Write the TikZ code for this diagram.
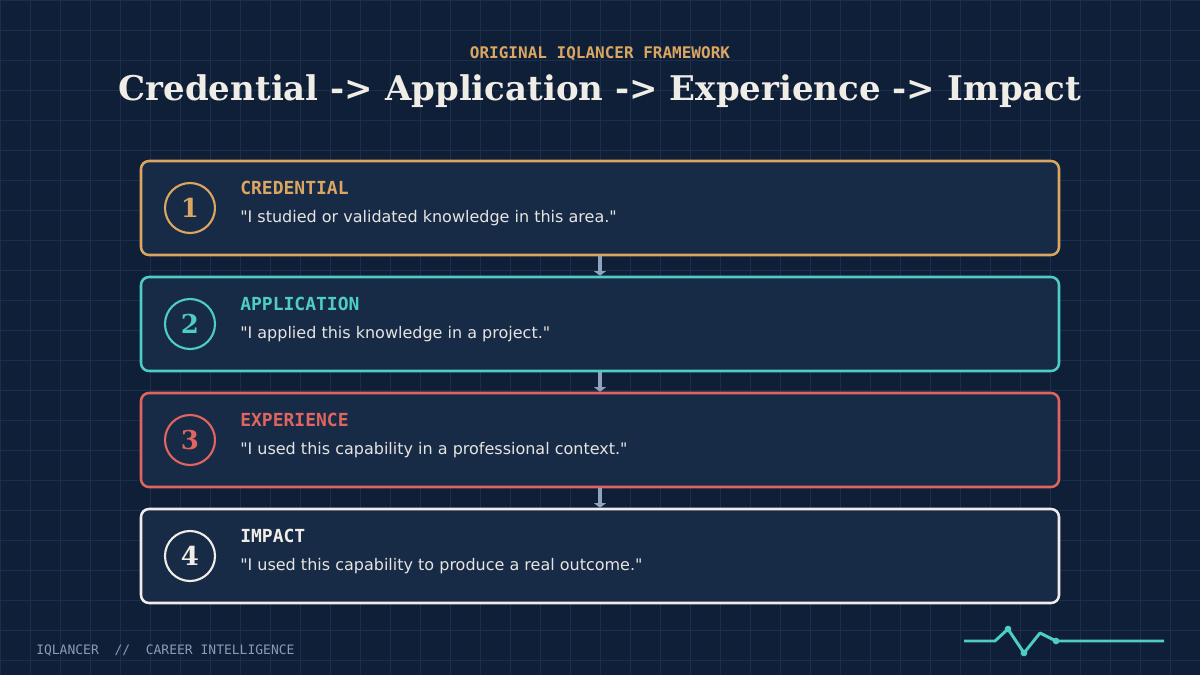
\documentclass[tikz,border=0pt]{standalone}
\usepackage{fontspec}
\setmainfont{DejaVu Sans}[Ligatures=TeXOff]
\newfontfamily\titlefont{DejaVu Serif}[Ligatures=TeXOff]
\newfontfamily\monofont{DejaVu Sans Mono}[Ligatures=TeXOff]
\usetikzlibrary{arrows.meta}
\definecolor{bgc}{HTML}{0F1F38}
\definecolor{gridc}{HTML}{1B2F4D}
\definecolor{boxc}{HTML}{172B47}
\definecolor{goldc}{HTML}{DAA661}
\definecolor{tealc}{HTML}{4ECDC4}
\definecolor{redc}{HTML}{E0645F}
\definecolor{whitec}{HTML}{F0EDE6}
\definecolor{greyc}{HTML}{8FA3BF}
\definecolor{footc}{HTML}{8A9BB5}
\definecolor{quotec}{HTML}{E6E4E0}
\tikzset{
  stagebox/.style={draw=#1, fill=boxc, line width=1.9pt, rounded corners=6pt, minimum width=688.5pt, minimum height=70.5pt, inner sep=0pt},
  numcircle/.style={draw=#1, line width=1.6pt, circle, minimum size=37.5pt, inner sep=0pt, text=#1, font=\titlefont\bfseries\fontsize{19.5pt}{22pt}\selectfont},
  stagelabel/.style={anchor=base west, text=#1, inner sep=0pt, font=\monofont\bfseries\fontsize{13.5pt}{16pt}\selectfont},
  stagequote/.style={anchor=base west, text=quotec, inner sep=0pt, font=\fontsize{12pt}{14pt}\selectfont},
  flowarrow/.style={draw=greyc, line width=2.3pt, -{Triangle[width=9pt,length=3.5pt]}},
  pulse/.style={draw=tealc, line width=2.2pt, line join=round},
  pulsedot/.style={circle, fill=tealc, inner sep=0pt, minimum size=5pt}
}
\begin{document}
\begin{tikzpicture}[x=0.75pt,y=-0.75pt]
\useasboundingbox (0,0) rectangle (1200,675);
\fill[bgc] (0,0) rectangle (1200,675);
\foreach \gx in {0,30,...,1200} \draw[gridc, line width=0.75pt] (\gx,0) -- (\gx,675);
\foreach \gy in {0,30,...,660} \draw[gridc, line width=0.75pt] (0,\gy) -- (1200,\gy);

\node[anchor=base, text=goldc, font=\monofont\bfseries\fontsize{12pt}{14pt}\selectfont, inner sep=0pt] (kicker) at (600,58) {ORIGINAL IQLANCER FRAMEWORK};
\node[anchor=base, text=whitec, font=\titlefont\bfseries\fontsize{25.5pt}{30pt}\selectfont, inner sep=0pt] (title) at (600,100) {Credential -> Application -> Experience -> Impact};

\node[stagebox=goldc] (b1) at (600,208) {};
\node[stagebox=tealc] (b2) at (600,324) {};
\node[stagebox=redc] (b3) at (600,440) {};
\node[stagebox=whitec] (b4) at (600,556) {};

\node[numcircle=goldc] (c1) at (190,208) {1};
\node[numcircle=tealc] (c2) at (190,324) {2};
\node[numcircle=redc] (c3) at (190,440) {3};
\node[numcircle=whitec] (c4) at (190,556) {4};

\node[stagelabel=goldc] (l1) at (240,194) {CREDENTIAL};
\node[stagequote] (q1) at (240,222) {"I studied or validated knowledge in this area."};
\node[stagelabel=tealc] (l2) at (240,310) {APPLICATION};
\node[stagequote] (q2) at (240,338) {"I applied this knowledge in a project."};
\node[stagelabel=redc] (l3) at (240,426) {EXPERIENCE};
\node[stagequote] (q3) at (240,454) {"I used this capability in a professional context."};
\node[stagelabel=whitec] (l4) at (240,542) {IMPACT};
\node[stagequote] (q4) at (240,570) {"I used this capability to produce a real outcome."};

\draw[flowarrow] (b1.south) -- (b2.north);
\draw[flowarrow] (b2.south) -- (b3.north);
\draw[flowarrow] (b3.south) -- (b4.north);

\node[anchor=base west, text=footc, inner sep=0pt, font=\monofont\fontsize{9.75pt}{11pt}\selectfont] (foot) at (36,654) {IQLANCER\ \ //\ \ CAREER INTELLIGENCE};

\coordinate (p0) at (964,641);
\coordinate (p1) at (995,641);
\node[pulsedot] (d1) at (1008,629) {};
\node[pulsedot] (d2) at (1024,653) {};
\coordinate (p4) at (1040,633);
\node[pulsedot] (d3) at (1056,641) {};
\coordinate (p6) at (1164,641);
\draw[pulse] (p0) -- (p1) -- (d1.center) -- (d2.center) -- (p4) -- (d3.center) -- (p6);
\end{tikzpicture}
\end{document}
